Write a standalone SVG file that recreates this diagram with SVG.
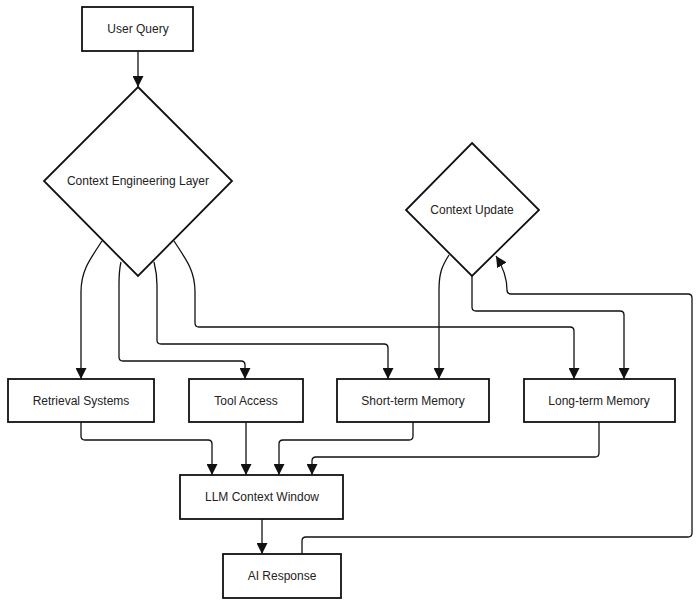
<svg xmlns="http://www.w3.org/2000/svg" width="700" height="606" viewBox="0 0 700 606">
<style>
.box{fill:#fff;stroke:#111;stroke-width:1.8}
.lbl{font-family:"Liberation Sans",Arial,sans-serif;font-size:12px;fill:#222;text-anchor:middle;dominant-baseline:central}
.edge{fill:none;stroke:#111;stroke-width:1.3}
</style>
<defs>
<marker id="arr" markerUnits="userSpaceOnUse" markerWidth="11" markerHeight="11" refX="10" refY="5" orient="auto" viewBox="0 0 10 10">
<path d="M0,0 L10,5 L0,10 z" fill="#111"/>
</marker>
</defs>
<rect width="700" height="606" fill="#fff"/>
<g id="connectors">
<path class="edge" marker-end="url(#arr)" d="M138,51 L138,87"/>
<path class="edge" marker-end="url(#arr)" d="M102,241 C88,262 81,272 81,292 L81,379"/>
<path class="edge" marker-end="url(#arr)" d="M121,262 C119,270 119,275 119,285 L119,357 Q119,361 123,361 L241,361 Q245,361 245,365 L245,379"/>
<path class="edge" marker-end="url(#arr)" d="M154,262 C156,270 157,275 157,285 L157,340 Q157,344 161,344 L384,344 Q388,344 388,348 L388,379"/>
<path class="edge" marker-end="url(#arr)" d="M174,241 C188,262 195,272 195,292 L195,323 Q195,327 199,327 L570,327 Q574,327 574,331 L574,379"/>
<path class="edge" marker-end="url(#arr)" d="M449,255 C442,266 439,273 439,290 L439,379"/>
<path class="edge" marker-end="url(#arr)" d="M472,276 L472,307 Q472,311 476,311 L620,311 Q624,311 624,315 L624,379"/>
<path class="edge" marker-end="url(#arr)" d="M302,554 L302,541 Q302,537 306,537 L688,537 Q692,537 692,533 L692,298 Q692,294 688,294 L511,294 Q507,294 507,290 C507,278 503,267 496,256"/>
<path class="edge" marker-end="url(#arr)" d="M81,422 L81,436 Q81,440 85,440 L208,440 Q212,440 212,444 L212,475"/>
<path class="edge" marker-end="url(#arr)" d="M246,422 L246,475"/>
<path class="edge" marker-end="url(#arr)" d="M413,422 L413,436 Q413,440 409,440 L283,440 Q279,440 279,444 L279,475"/>
<path class="edge" marker-end="url(#arr)" d="M599,422 L599,453 Q599,457 595,457 L316,457 Q312,457 312,461 L312,475"/>
<path class="edge" marker-end="url(#arr)" d="M262,519 L262,554"/>
</g>
<g id="user-query"><rect class="box" x="82" y="7" width="111" height="44"/><text class="lbl" x="138" y="29">User Query</text></g>
<g id="context-engineering-layer"><polygon class="box" points="138,87 232,181 138,276 44,181"/><text class="lbl" x="138" y="181">Context Engineering Layer</text></g>
<g id="context-update"><polygon class="box" points="472,143 539,210 472,276 406,210"/><text class="lbl" x="472" y="210">Context Update</text></g>
<g id="retrieval-systems"><rect class="box" x="8" y="379" width="146" height="43"/><text class="lbl" x="81" y="401">Retrieval Systems</text></g>
<g id="tool-access"><rect class="box" x="189" y="379" width="114" height="43"/><text class="lbl" x="246" y="401">Tool Access</text></g>
<g id="short-term-memory"><rect class="box" x="337" y="379" width="152" height="43"/><text class="lbl" x="413" y="401">Short-term Memory</text></g>
<g id="long-term-memory"><rect class="box" x="524" y="379" width="151" height="43"/><text class="lbl" x="599" y="401">Long-term Memory</text></g>
<g id="llm-context-window"><rect class="box" x="180" y="475" width="163" height="44"/><text class="lbl" x="262" y="497">LLM Context Window</text></g>
<g id="ai-response"><rect class="box" x="223" y="554" width="118" height="44"/><text class="lbl" x="282" y="576">AI Response</text></g>
</svg>
